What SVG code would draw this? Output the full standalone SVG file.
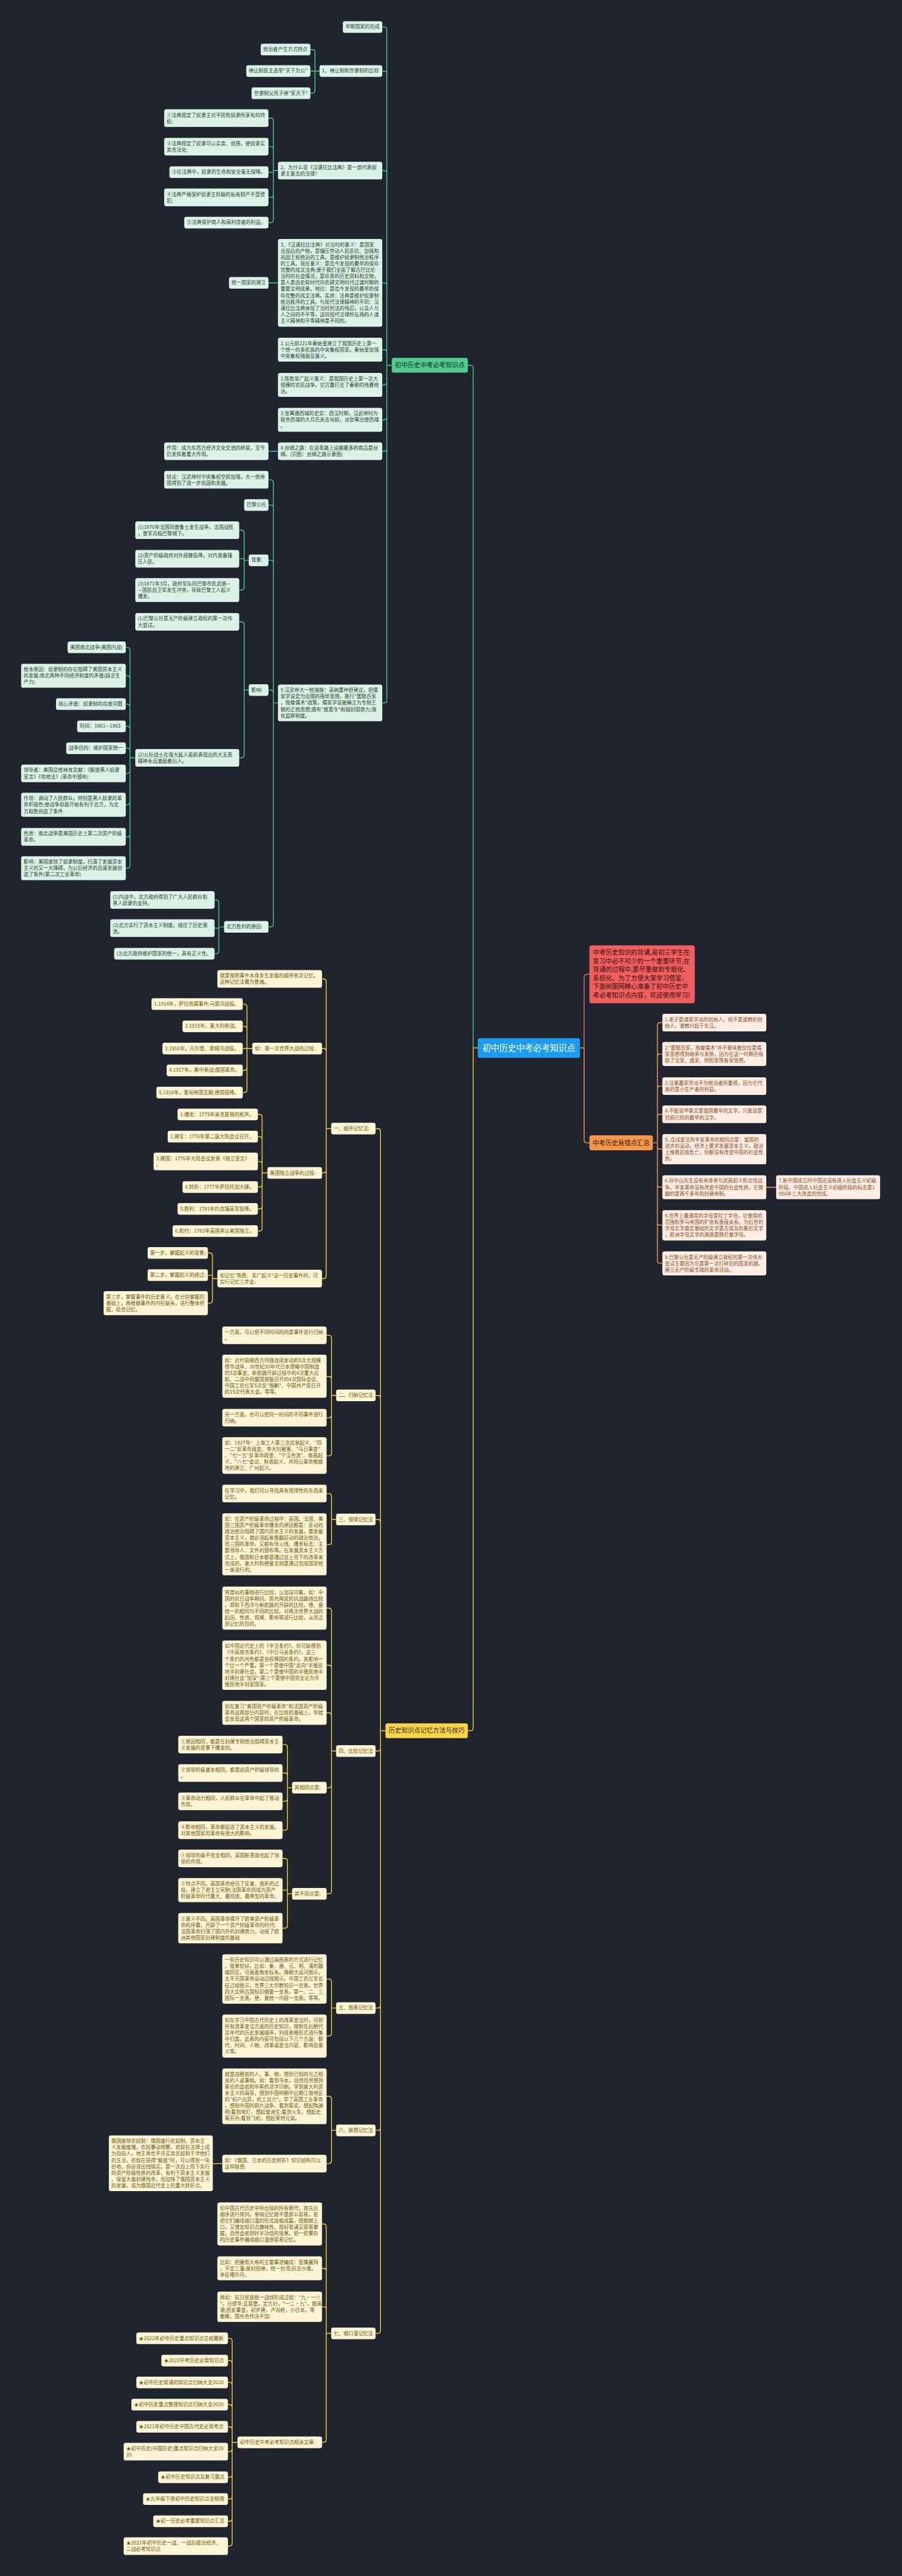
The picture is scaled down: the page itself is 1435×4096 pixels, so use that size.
<svg xmlns="http://www.w3.org/2000/svg" width="1435" height="4096" viewBox="0 0 1435 4096">
<style>
text{font-family:"Noto Sans CJK SC","Noto Sans",sans-serif;font-size:14px}
.n rect{rx:6px;ry:6px}
.g rect{fill:#daf3e6}.g text{fill:#2e3d35}
.y rect{fill:#fdf5d5}.y text{fill:#6b560c}
.o rect{fill:#fdede2}.o text{fill:#8b4a1e}
.big text{font-size:18px}
.gb rect{fill:#4fcb8d}.gb text{fill:#183226}
.yb rect{fill:#f8d44a}.yb text{fill:#3d3000}
.ob rect{fill:#f7964b}.ob text{fill:#3b1d06}
.rb rect{fill:#f05f5f}.rb text{fill:#3a0d0d}
.root rect{fill:#1b9cf0}.root text{fill:#ffffff;font-size:24px}
#connectors path{fill:none;stroke-width:2.5}
.cg{stroke:#4cc28c}.cy{stroke:#efcb3a}.co{stroke:#f29a55}.cr{stroke:#e86a6a}
</style>
<rect width="1435" height="4096" fill="#20242f"/>
<g transform="scale(0.5605)">
<g id="connectors">
<path class="cg" d="M1356 2973H1343V1044Q1343 1036 1335 1036H1328"/>
<path class="cy" d="M1356 2973H1343V4902Q1343 4910 1335 4910H1328"/>
<path class="cr" d="M1646 2973H1658V2772Q1658 2764 1666 2764H1673"/>
<path class="co" d="M1646 2973H1658V3234Q1658 3242 1666 3242H1673"/>
<path class="cg" d="M1112 1036H1098V84.5Q1098 76.5 1090 76.5H1085M1098 209.5Q1098 201.5 1090 201.5H1085M1098 492Q1098 484 1090 484H1085M1098 810.5Q1098 802.5 1090 802.5H1085M1098 1000Q1098 992 1090 992H1085M1112 1036H1098V1984M1098 1084Q1098 1092 1090 1092H1085M1098 1183Q1098 1191 1090 1191H1085M1098 1272Q1098 1280 1090 1280H1085M1098 1986Q1098 1994 1090 1994H1085"/>
<path class="cg" d="M907 201.5H894V148.5Q894 140.5 886 140.5H881M907 201.5H881M894 201.5V256.5Q894 264.5 886 264.5H881"/>
<path class="cg" d="M789 484H776V343Q776 335 768 335H762M776 424Q776 416 768 416H762M776 484V488.5H762M776 484V552Q776 560 768 560H762M776 552V623.5Q776 631.5 768 631.5H762"/>
<path class="cg" d="M789 802.5H762M789 1280H762"/>
<path class="cg" d="M789 1994H776V1369Q776 1361 768 1361H762M776 1440.5Q776 1432.5 768 1432.5H762M776 1597.5Q776 1589.5 768 1589.5H762M776 1965.5Q776 1957.5 768 1957.5H762M776 1994V2621.5Q776 2629.5 768 2629.5H762"/>
<path class="cg" d="M706 1589.5H693V1512Q693 1504 685 1504H679M693 1589.5V1585H679M693 1589.5V1666Q693 1674 685 1674H679"/>
<path class="cg" d="M706 1957.5H693V1772Q693 1764 685 1764H679M693 1957.5V2142Q693 2150 685 2150H679"/>
<path class="cg" d="M384 2150H369V1844.5Q369 1836.5 361 1836.5H357M369 1925Q369 1917 361 1917H357M369 2005.5Q369 1997.5 361 1997.5H357M369 2068.5Q369 2060.5 361 2060.5H357M369 2130.5Q369 2122.5 361 2122.5H357M369 2150V2455Q369 2463 361 2463H357M369 2186Q369 2194 361 2194H357M369 2275Q369 2283 361 2283H357M369 2366Q369 2374 361 2374H357"/>
<path class="cg" d="M636 2629.5H621V2561Q621 2553 613 2553H609M621 2629.5V2633H609M621 2629.5V2697.5Q621 2705.5 613 2705.5H609"/>
<path class="cy" d="M1094 4910H1080V3209.5Q1080 3201.5 1072 3201.5H1066M1080 3966.5Q1080 3958.5 1072 3958.5H1066M1080 4318.5Q1080 4310.5 1072 4310.5H1066M1080 4910V6611.5Q1080 6619.5 1072 6619.5H1066M1080 4959.5Q1080 4967.5 1072 4967.5H1066M1080 5688.5Q1080 5696.5 1072 5696.5H1066M1080 6035.5Q1080 6043.5 1072 6043.5H1066"/>
<path class="cy" d="M940 3201.5H926V2785Q926 2777 918 2777H914M926 2982.5Q926 2974.5 918 2974.5H914M926 3201.5V3619Q926 3627 918 3627H914M926 3319.5Q926 3327.5 918 3327.5H914"/>
<path class="cy" d="M716 2974.5H701V2856.5Q701 2848.5 693 2848.5H689M701 2919.5Q701 2911.5 693 2911.5H689M716 2974.5H689M701 2974.5V3091.5Q701 3099.5 693 3099.5H689M701 3028.5Q701 3036.5 693 3036.5H689"/>
<path class="cy" d="M759 3327.5H744V3169.5Q744 3161.5 736 3161.5H732M744 3232.5Q744 3224.5 736 3224.5H732M744 3303Q744 3295 736 3295H732M744 3327.5V3484.5Q744 3492.5 736 3492.5H732M744 3359.5Q744 3367.5 736 3367.5H732M744 3421.5Q744 3429.5 736 3429.5H732"/>
<path class="cy" d="M617 3627H603V3562.5Q603 3554.5 595 3554.5H590M603 3627V3617.5H590M603 3627V3689Q603 3697 595 3697H590"/>
<path class="cy" d="M954 3958.5H941V3796Q941 3788 933 3788H927M941 3913Q941 3905 933 3905H927M941 3958.5V4122Q941 4130 933 4130H927M941 4014Q941 4022 933 4022H927"/>
<path class="cy" d="M954 4310.5H941V4245Q941 4237 933 4237H927M941 4310.5V4374Q941 4382 933 4382H927"/>
<path class="cy" d="M954 4967.5H941V4570Q941 4562 933 4562H927M941 4732Q941 4724 933 4724H927M941 4867Q941 4859 933 4859H927M941 4967.5V5364.5Q941 5372.5 933 5372.5H927M941 5063.5Q941 5071.5 933 5071.5H927"/>
<path class="cy" d="M829 5071.5H816V4957Q816 4949 808 4949H802M816 5038Q816 5030 808 5030H802M816 5071.5V5184Q816 5192 808 5192H802M816 5102Q816 5110 808 5110H802"/>
<path class="cy" d="M829 5372.5H816V5280Q816 5272 808 5272H802M816 5372.5V5362H802M816 5372.5V5462Q816 5470 808 5470H802"/>
<path class="cy" d="M954 5696.5H941V5622Q941 5614 933 5614H927M941 5696.5V5768Q941 5776 933 5776H927"/>
<path class="cy" d="M954 6043.5H941V5955Q941 5947 933 5947H927M941 6043.5V6130Q941 6138 933 6138H927M631 6138H604"/>
<path class="cy" d="M940 6619.5H926V6317Q926 6309 918 6309H914M926 6443Q926 6435 918 6435H914M926 6552Q926 6544 918 6544H914M926 6619.5V6920.5Q926 6928.5 918 6928.5H914"/>
<path class="cy" d="M674 6928.5H659V6641.5Q659 6633.5 651 6633.5H647M659 6704.5Q659 6696.5 651 6696.5H647M659 6766.5Q659 6758.5 651 6758.5H647M659 6829.5Q659 6821.5 651 6821.5H647M659 6892.5Q659 6884.5 651 6884.5H647M659 6928.5V7215Q659 7223 651 7223H647M659 6947Q659 6955 651 6955H647M659 7019.5Q659 7027.5 651 7027.5H647M659 7081.5Q659 7089.5 651 7089.5H647M659 7144.5Q659 7152.5 651 7152.5H647"/>
<path class="co" d="M1853 3242H1866V2909Q1866 2901 1874 2901H1880M1866 2998Q1866 2990 1874 2990H1880M1866 3089Q1866 3081 1874 3081H1880M1866 3169Q1866 3161 1874 3161H1880M1866 3242V3576Q1866 3584 1874 3584H1880M1866 3252Q1866 3260 1874 3260H1880M1866 3360Q1866 3368 1874 3368H1880M1866 3468Q1866 3476 1874 3476H1880M2175 3368H2203"/>
</g>

<g id="root" class="n root"><rect x="1356" y="2945" width="290" height="56"/><text x="1501" y="2982" text-anchor="middle">初中历史中考必考知识点</text></g>
<g id="intro" class="n rb big"><rect x="1673" y="2682" width="299" height="164"/><text x="1683" y="2709">中考历史知识的背诵,是初三学生在<tspan x="1683" dy="24">复习中必不可少的一个重要环节,在</tspan><tspan x="1683" dy="24">背诵的过程中,要尽量做到专题化、</tspan><tspan x="1683" dy="24">系统化。为了方便大家学习借鉴，</tspan><tspan x="1683" dy="24">下面树图网精心准备了初中历史中</tspan><tspan x="1683" dy="24">考必考知识点内容，欢迎使用学习!</tspan></text></g>

<g id="ob" class="n ob big"><rect x="1673" y="3221" width="180" height="42"/><text x="1682" y="3248">中考历史易错点汇总</text></g>
<g id="o1" class="n o"><rect x="1880" y="2876" width="295" height="50"/><text x="1887" y="2897">1.老子是道家学派的创始人，但不是道教的创<tspan x="1887" dy="18">始人，道教兴起于东汉。</tspan></text></g>
<g id="o2" class="n o"><rect x="1880" y="2956" width="295" height="68"/><text x="1887" y="2977">2."罢黜百家，独尊儒术"并不意味着仅仅是儒<tspan x="1887" dy="18">家思想得到继承与发扬，因为在这一时期还吸</tspan><tspan x="1887" dy="18">取了法家、道家、阴阳家等各家思想。</tspan></text></g>
<g id="o3" class="n o"><rect x="1880" y="3056" width="295" height="50"/><text x="1887" y="3077">3.注意墨家学派不为统治者所重视，因为它代<tspan x="1887" dy="18">表的是小生产者的利益。</tspan></text></g>
<g id="o4" class="n o"><rect x="1880" y="3136" width="295" height="50"/><text x="1887" y="3157">4.不能说甲骨文是我国最早的文字，只能说是<tspan x="1887" dy="18">目前已知的最早的汉字。</tspan></text></g>
<g id="o5" class="n o"><rect x="1880" y="3217" width="295" height="86"/><text x="1887" y="3238">5..戊戌变法和辛亥革命的相同点是：爱国的<tspan x="1887" dy="18">进步的运动，经济上要求发展资本主义，政治</tspan><tspan x="1887" dy="18">上挽救民族危亡，但都没有改变中国的社会性</tspan><tspan x="1887" dy="18">质。</tspan></text></g>
<g id="o6" class="n o"><rect x="1880" y="3334" width="295" height="68"/><text x="1887" y="3355">6.孙中山先生没有亲身参与武昌起义和北伐战<tspan x="1887" dy="18">争。辛亥革命没有改变中国的社会性质，它推</tspan><tspan x="1887" dy="18">翻的是两千多年的封建帝制。</tspan></text></g>
<g id="o7" class="n o"><rect x="2203" y="3334" width="295" height="68"/><text x="2210" y="3355">7.新中国成立时中国还没有进入社会主义初级<tspan x="2210" dy="18">阶段，中国进入社会主义初级阶段的标志是1</tspan><tspan x="2210" dy="18">956年三大改造的完成。</tspan></text></g>
<g id="o8" class="n o"><rect x="1880" y="3433" width="295" height="86"/><text x="1887" y="3454">8.世界上最通用的字母是拉丁字母，它使用的<tspan x="1887" dy="18">范围和罗马帝国的扩张有直接关系。为后世的</tspan><tspan x="1887" dy="18">字母文字奠定基础的文字是古埃及的象形文字</tspan><tspan x="1887" dy="18">，欧洲字母文字的渊源是腓尼基字母。</tspan></text></g>
<g id="o9" class="n o"><rect x="1880" y="3550" width="295" height="68"/><text x="1887" y="3571">9.巴黎公社是无产阶级建立政权的第一次伟大<tspan x="1887" dy="18">尝试主要因为它是第一次打碎旧的国家机器，</tspan><tspan x="1887" dy="18">建立无产阶级专政的革命活动。</tspan></text></g>

<g id="g0" class="n gb big"><rect x="1112" y="1015" width="216" height="42"/><text x="1121" y="1042">初中历史中考必考知识点</text></g>
<g id="g1" class="n g"><rect x="973" y="60" width="112" height="33"/><text x="980" y="81">早期国家的形成</text></g>
<g id="g2" class="n g"><rect x="907" y="185" width="178" height="33"/><text x="914" y="206">1、禅让制和世袭制的比较</text></g>
<g id="g2a" class="n g"><rect x="740" y="124" width="141" height="33"/><text x="747" y="145">统治者产生方式特点</text></g>
<g id="g2b" class="n g"><rect x="699" y="185" width="182" height="33"/><text x="706" y="206">禅让制民主选举"天下为公"</text></g>
<g id="g2c" class="n g"><rect x="714" y="248" width="167" height="33"/><text x="721" y="269">世袭制父死子继"家天下"</text></g>
<g id="g3" class="n g"><rect x="789" y="459" width="296" height="50"/><text x="796" y="480">2、为什么说《汉谟拉比法典》是一部代表奴<tspan x="796" dy="18">隶主意志的法律?</tspan></text></g>
<g id="g3a" class="n g"><rect x="466" y="310" width="296" height="50"/><text x="473" y="331">①法典规定了奴隶主对平民和奴隶所享有的特<tspan x="473" dy="18">权;</tspan></text></g>
<g id="g3b" class="n g"><rect x="466" y="391" width="296" height="50"/><text x="473" y="412">②法典规定了奴隶可以买卖、抵债，使奴隶买<tspan x="473" dy="18">卖合法化;</tspan></text></g>
<g id="g3c" class="n g"><rect x="481" y="472" width="281" height="33"/><text x="488" y="493">③在法典中，奴隶的生命和安全毫无保障。</text></g>
<g id="g3d" class="n g"><rect x="466" y="535" width="296" height="50"/><text x="473" y="556">④法典严格保护奴隶主阶级的私有财产不受侵<tspan x="473" dy="18">犯;</tspan></text></g>
<g id="g3e" class="n g"><rect x="523" y="615" width="239" height="33"/><text x="530" y="636">⑤法典保护商人和高利贷者的利益。</text></g>
<g id="g4" class="n g"><rect x="789" y="678" width="296" height="249"/><text x="796" y="699">3、《汉谟拉比法典》对当时的意义：是国家<tspan x="796" dy="18">出现后的产物，是镇压劳动人民反抗、加强和</tspan><tspan x="796" dy="18">巩固王权统治的工具，是维护奴隶制统治秩序</tspan><tspan x="796" dy="18">的工具。现在意义：是迄今发现的最早的保存</tspan><tspan x="796" dy="18">完整的成文法典;便于我们全面了解古巴比伦</tspan><tspan x="796" dy="18">当时的社会情况，是珍贵的历史资料和文物，</tspan><tspan x="796" dy="18">是人类由史前时代向农耕文明时代过渡时期的</tspan><tspan x="796" dy="18">重要文明成果。地位：是迄今发现的最早的保</tspan><tspan x="796" dy="18">存完整的成文法典。实质：法典是维护奴隶制</tspan><tspan x="796" dy="18">统治秩序的工具。与现代法律精神的不同：汉</tspan><tspan x="796" dy="18">谟拉比法典体现了当时刑法的残忍，以及人与</tspan><tspan x="796" dy="18">人之间的不平等，这同现代法律所弘扬的人道</tspan><tspan x="796" dy="18">主义精神和平等精神是不同的。</tspan></text></g>
<g id="g4a" class="n g"><rect x="650" y="786" width="112" height="33"/><text x="657" y="807">统一国家的建立</text></g>
<g id="g5" class="n g"><rect x="789" y="958" width="296" height="68"/><text x="796" y="979">1.公元前221年秦始皇建立了我国历史上第一<tspan x="796" dy="18">个统一的多民族的中央集权国家。秦始皇加强</tspan><tspan x="796" dy="18">中央集权措施及意义。</tspan></text></g>
<g id="g6" class="n g"><rect x="789" y="1058" width="296" height="68"/><text x="796" y="1079">2.陈胜吴广起义意义：是我国历史上第一次大<tspan x="796" dy="18">规模的农民战争，它沉重打击了秦朝的残暴统</tspan><tspan x="796" dy="18">治。</tspan></text></g>
<g id="g7" class="n g"><rect x="789" y="1157" width="296" height="68"/><text x="796" y="1178">3.张骞通西域的史实：西汉时期，汉武帝时为<tspan x="796" dy="18">联合西域的大月氏夹击匈奴，派张骞出使西域</tspan><tspan x="796" dy="18">。</tspan></text></g>
<g id="g8" class="n g"><rect x="789" y="1255" width="296" height="50"/><text x="796" y="1276">4.丝绸之路：在这条路上运输最多的商品是丝<tspan x="796" dy="18">绸。(识图：丝绸之路示意图)</tspan></text></g>
<g id="g8a" class="n g"><rect x="466" y="1255" width="296" height="50"/><text x="473" y="1276">作用：成为东西方经济文化交流的桥梁，至今<tspan x="473" dy="18">仍发挥着重大作用。</tspan></text></g>
<g id="g9" class="n g"><rect x="789" y="1942" width="296" height="104"/><text x="796" y="1963">5.汉武帝大一统措施：采纳董仲舒建议，把儒<tspan x="796" dy="18">家学说定为治国的指导思想，推行"罢黜百家</tspan><tspan x="796" dy="18">，独尊儒术"政策，儒家学说被确立为专制王</tspan><tspan x="796" dy="18">朝的正统思想;颁布"推恩令"削弱封国势力;强</tspan><tspan x="796" dy="18">化监察制度。</tspan></text></g>
<g id="g9a" class="n g"><rect x="466" y="1336" width="296" height="50"/><text x="473" y="1357">结论：汉武帝时中央集权空前加强，大一统帝<tspan x="473" dy="18">国得到了进一步巩固和发展。</tspan></text></g>
<g id="g9b" class="n g"><rect x="693" y="1416" width="69" height="33"/><text x="700" y="1437">巴黎公社</text></g>
<g id="g9c" class="n g"><rect x="706" y="1573" width="56" height="33"/><text x="713" y="1594">背景:</text></g>
<g id="g9c1" class="n g"><rect x="384" y="1479" width="295" height="50"/><text x="391" y="1500">(1)1870年法国同普鲁士发生战争，法国战败<tspan x="391" dy="18">，普军兵临巴黎城下。</tspan></text></g>
<g id="g9c2" class="n g"><rect x="384" y="1560" width="295" height="50"/><text x="391" y="1581">(2)资产阶级政府对外屈膝投降，对内准备镇<tspan x="391" dy="18">压人民。</tspan></text></g>
<g id="g9c3" class="n g"><rect x="384" y="1640" width="295" height="68"/><text x="391" y="1661">(3)1871年3月，政府军队同巴黎市民武装—<tspan x="391" dy="18">—国民自卫军发生冲突，导致巴黎工人起义</tspan><tspan x="391" dy="18">爆发。</tspan></text></g>
<g id="g9d" class="n g"><rect x="706" y="1941" width="56" height="33"/><text x="713" y="1962">影响:</text></g>
<g id="g9d1" class="n g"><rect x="384" y="1739" width="295" height="50"/><text x="391" y="1760">(1)巴黎公社是无产阶级建立政权的第一次伟<tspan x="391" dy="18">大尝试。</tspan></text></g>
<g id="g9d2" class="n g"><rect x="384" y="2125" width="295" height="50"/><text x="391" y="2146">(2)公社战士在强大敌人面前表现出的大无畏<tspan x="391" dy="18">精神永远激励着后人。</tspan></text></g>
<g id="na" class="n g"><rect x="192" y="1820" width="165" height="33"/><text x="199" y="1841">美国南北战争(美国内战)</text></g>
<g id="nb" class="n g"><rect x="60" y="1883" width="297" height="68"/><text x="67" y="1904">根本原因：奴隶制的存在阻碍了美国资本主义<tspan x="67" dy="18">的发展;南北两种不同经济制度的矛盾(缺乏生</tspan><tspan x="67" dy="18">产力)</tspan></text></g>
<g id="nc" class="n g"><rect x="159" y="1981" width="198" height="33"/><text x="166" y="2002">核心矛盾：奴隶制的存废问题</text></g>
<g id="nd" class="n g"><rect x="219" y="2044" width="138" height="33"/><text x="226" y="2065">时间：1861—1865</text></g>
<g id="ne" class="n g"><rect x="188" y="2106" width="169" height="33"/><text x="195" y="2127">战争目的：维护国家统一</text></g>
<g id="nf" class="n g"><rect x="60" y="2169" width="297" height="50"/><text x="67" y="2190">领导者：美国总统林肯文献：《解放黑人奴隶<tspan x="67" dy="18">宣言》《宅地法》(革命中颁布)</tspan></text></g>
<g id="ng" class="n g"><rect x="60" y="2249" width="297" height="68"/><text x="67" y="2270">作用：调动了人民群众，特别是黑人奴隶的革<tspan x="67" dy="18">命积极性;使战争局面开始有利于北方，为北</tspan><tspan x="67" dy="18">方取胜创造了条件</tspan></text></g>
<g id="nh" class="n g"><rect x="60" y="2349" width="297" height="50"/><text x="67" y="2370">性质：南北战争是美国历史上第二次资产阶级<tspan x="67" dy="18">革命。</tspan></text></g>
<g id="ni" class="n g"><rect x="60" y="2429" width="297" height="68"/><text x="67" y="2450">影响：美国废除了奴隶制度，扫清了发展资本<tspan x="67" dy="18">主义的又一大障碍，为以后经济的迅速发展创</tspan><tspan x="67" dy="18">造了条件(第二次工业革命)</tspan></text></g>
<g id="g9e" class="n g"><rect x="636" y="2613" width="126" height="33"/><text x="643" y="2634">北方胜利的原因:</text></g>
<g id="nr1" class="n g"><rect x="313" y="2528" width="296" height="50"/><text x="320" y="2549">(1)内战中，北方政府得到了广大人民群众和<tspan x="320" dy="18">黑人奴隶的支持。</tspan></text></g>
<g id="nr2" class="n g"><rect x="313" y="2608" width="296" height="50"/><text x="320" y="2629">(2)北方实行了资本主义制度，顺应了历史潮<tspan x="320" dy="18">流。</tspan></text></g>
<g id="nr3" class="n g"><rect x="324" y="2689" width="285" height="33"/><text x="331" y="2710">(3)北方政府维护国家的统一，具有正义性。</text></g>

<g id="y0" class="n yb big"><rect x="1094" y="4889" width="234" height="42"/><text x="1103" y="4916">历史知识点记忆方法与技巧</text></g>
<g id="y1" class="n y"><rect x="940" y="3185" width="126" height="33"/><text x="947" y="3206">一、顺序记忆法:</text></g>
<g id="y1a" class="n y"><rect x="617" y="2752" width="297" height="50"/><text x="624" y="2773">就是按照事件本身发生发展的顺序依次记忆。<tspan x="624" dy="18">这种记忆法最为普遍。</tspan></text></g>
<g id="y1b" class="n y"><rect x="716" y="2958" width="198" height="33"/><text x="723" y="2979">如：第一次世界大战的过程:</text></g>
<g id="w1" class="n y"><rect x="430" y="2832" width="259" height="33"/><text x="437" y="2853">1.1914年，萨拉热窝事件;马恩河战役。</text></g>
<g id="w2" class="n y"><rect x="518" y="2895" width="171" height="33"/><text x="525" y="2916">2.1915年，意大利参战。</text></g>
<g id="w3" class="n y"><rect x="461" y="2958" width="228" height="33"/><text x="468" y="2979">3.1916年，凡尔登、索姆河战役。</text></g>
<g id="w4" class="n y"><rect x="473" y="3020" width="216" height="33"/><text x="480" y="3041">4.1917年，美中参战;俄国革命。</text></g>
<g id="w5" class="n y"><rect x="444" y="3083" width="245" height="33"/><text x="451" y="3104">5.1918年，奥匈帝国瓦解;德国投降。</text></g>
<g id="y1c" class="n y"><rect x="759" y="3311" width="155" height="33"/><text x="766" y="3332">美国独立战争的过程:</text></g>
<g id="u1" class="n y"><rect x="504" y="3145" width="228" height="33"/><text x="511" y="3166">1.爆发：1775年来克星顿的枪声。</text></g>
<g id="u2" class="n y"><rect x="476" y="3208" width="256" height="33"/><text x="483" y="3229">2.建军：1776年第二届大陆会议召开。</text></g>
<g id="u3" class="n y"><rect x="436" y="3270" width="296" height="50"/><text x="443" y="3291">3.建国：1776年大陆会议发表《独立宣言》<tspan x="443" dy="18">。</tspan></text></g>
<g id="u4" class="n y"><rect x="518" y="3351" width="214" height="33"/><text x="525" y="3372">4.转折：1777年萨拉托加大捷。</text></g>
<g id="u5" class="n y"><rect x="504" y="3413" width="228" height="33"/><text x="511" y="3434">5.胜利：1781年约克镇英军投降。</text></g>
<g id="u6" class="n y"><rect x="490" y="3476" width="242" height="33"/><text x="497" y="3497">6.和约：1783年英国承认美国独立。</text></g>
<g id="y1d" class="n y"><rect x="617" y="3602" width="297" height="50"/><text x="624" y="3623">如记忆"陈胜、吴广起义"这一历史事件时，可<tspan x="624" dy="18">实行记忆三步走:</tspan></text></g>
<g id="s1" class="n y"><rect x="419" y="3538" width="171" height="33"/><text x="426" y="3559">第一步，掌握起义的背景;</text></g>
<g id="s2" class="n y"><rect x="419" y="3601" width="171" height="33"/><text x="426" y="3622">第二步，掌握起义的经过;</text></g>
<g id="s3" class="n y"><rect x="294" y="3663" width="296" height="68"/><text x="301" y="3684">第三步，掌握事件的历史意义。在分别掌握的<tspan x="301" dy="18">基础上，再根据事件的内在联系，进行整体把</tspan><tspan x="301" dy="18">握，综合记忆。</tspan></text></g>
<g id="y2" class="n y"><rect x="954" y="3942" width="112" height="33"/><text x="961" y="3963">二、归纳记忆法</text></g>
<g id="y2a" class="n y"><rect x="631" y="3763" width="296" height="50"/><text x="638" y="3784">一方面，可以把不同时间的同类事件进行归纳<tspan x="638" dy="18">。</tspan></text></g>
<g id="y2b" class="n y"><rect x="631" y="3843" width="296" height="122"/><text x="638" y="3864">如：近代前期西方列强连续发动的5次大规模<tspan x="638" dy="18">侵华战争、20世纪30年代日本侵略中国制造</tspan><tspan x="638" dy="18">的5次事变、新航路开辟过程中的4次重大远</tspan><tspan x="638" dy="18">航、二战中同盟国首脑召开的4次国际会议、</tspan><tspan x="638" dy="18">中国工农红军5次反"围剿"、中国共产党召开</tspan><tspan x="638" dy="18">的15次代表大会，等等。</tspan></text></g>
<g id="y2c" class="n y"><rect x="631" y="3997" width="296" height="50"/><text x="638" y="4018">另一方面，也可以把同一时间的不同事件进行<tspan x="638" dy="18">归纳。</tspan></text></g>
<g id="y2d" class="n y"><rect x="631" y="4077" width="296" height="104"/><text x="638" y="4098">如：1927年：上海工人第三次武装起义、"四<tspan x="638" dy="18">一二"反革命政变、李大钊被害、"马日事变"</tspan><tspan x="638" dy="18">、"七一五"反革命政变、"宁汉合流"、南昌起</tspan><tspan x="638" dy="18">义、"八七"会议、秋收起义、井冈山革命根据</tspan><tspan x="638" dy="18">地的建立、广州起义。</tspan></text></g>
<g id="y3" class="n y"><rect x="954" y="4294" width="112" height="33"/><text x="961" y="4315">三、规律记忆法</text></g>
<g id="y3a" class="n y"><rect x="631" y="4212" width="296" height="50"/><text x="638" y="4233">在学习中，我们可以寻找具有规律性的东西来<tspan x="638" dy="18">记忆。</tspan></text></g>
<g id="y3b" class="n y"><rect x="631" y="4293" width="296" height="176"/><text x="638" y="4314">如：在资产阶级革命过程中：英国、法国、美<tspan x="638" dy="18">国三国资产阶级革命爆发的原因都是：反动的</tspan><tspan x="638" dy="18">政治统治阻碍了国内资本主义的发展，要发展</tspan><tspan x="638" dy="18">资本主义，就必须起来推翻反动的政治统治。</tspan><tspan x="638" dy="18">而三国的革命，又都有导火线、爆发标志、主</tspan><tspan x="638" dy="18">要领导人、文件的颁布等。在发展资本主义方</tspan><tspan x="638" dy="18">式上，俄国和日本都是通过自上而下的改革来</tspan><tspan x="638" dy="18">完成的，意大利和德意志则是通过完成国家统</tspan><tspan x="638" dy="18">一来进行的。</tspan></text></g>
<g id="y4" class="n y"><rect x="954" y="4951" width="112" height="33"/><text x="961" y="4972">四、比较记忆法</text></g>
<g id="y4a" class="n y"><rect x="631" y="4501" width="296" height="122"/><text x="638" y="4522">将类似的事物进行比较，以加深印象。如：中<tspan x="638" dy="18">国的抗日战争期间，国共两党的抗战路线比较</tspan><tspan x="638" dy="18">。郑和下西洋与新航路的开辟的比较。德、意</tspan><tspan x="638" dy="18">统一的相同与不同的比较。对两次世界大战的</tspan><tspan x="638" dy="18">起因、性质、规模、影响等进行比较，从而达</tspan><tspan x="638" dy="18">到记忆的目的。</tspan></text></g>
<g id="y4b" class="n y"><rect x="631" y="4654" width="296" height="140"/><text x="638" y="4675">如中国近代史上的《辛丑条约》，你可联想到<tspan x="638" dy="18">《中英南京条约》、《中日马关条约》，这三</tspan><tspan x="638" dy="18">个条约的共性都是丧权辱国的条约，其影响一</tspan><tspan x="638" dy="18">个比一个严重。第一个是使中国"走向"半殖民</tspan><tspan x="638" dy="18">地半封建社会，第二个是使中国的半殖民地半</tspan><tspan x="638" dy="18">封建社会"加深";第三个是使中国完全沦为半</tspan><tspan x="638" dy="18">殖民地半封家国家。</tspan></text></g>
<g id="y4c" class="n y"><rect x="631" y="4825" width="296" height="68"/><text x="638" y="4846">如在复习"美国资产阶级革命"和法国资产阶级<tspan x="638" dy="18">革命这两部分内容时，在比较的基础上，你就</tspan><tspan x="638" dy="18">会发现这两个国家的资产阶级革命。</tspan></text></g>
<g id="same" class="n y"><rect x="829" y="5055" width="98" height="33"/><text x="836" y="5076">其相同点是:</text></g>
<g id="sa1" class="n y"><rect x="506" y="4924" width="296" height="50"/><text x="513" y="4945">①原因相同，都是在封建专制统治阻碍资本主<tspan x="513" dy="18">义发展的背景下爆发的。</tspan></text></g>
<g id="sa2" class="n y"><rect x="506" y="5005" width="296" height="50"/><text x="513" y="5026">②领导阶级基本相同，都是由资产阶级领导的<tspan x="513" dy="18">。</tspan></text></g>
<g id="sa3" class="n y"><rect x="506" y="5085" width="296" height="50"/><text x="513" y="5106">③革命动力相同，人民群众在革命中起了推动<tspan x="513" dy="18">作用。</tspan></text></g>
<g id="sa4" class="n y"><rect x="506" y="5167" width="296" height="50"/><text x="513" y="5188">④影响相同，革命都促进了资本主义的发展，<tspan x="513" dy="18">对其他国家的革命有很大的影响。</tspan></text></g>
<g id="diff" class="n y"><rect x="829" y="5356" width="98" height="33"/><text x="836" y="5377">其不同点是:</text></g>
<g id="d1" class="n y"><rect x="506" y="5247" width="296" height="50"/><text x="513" y="5268">①领导阶级不完全相同，英国新贵族也起了领<tspan x="513" dy="18">导的作用。</tspan></text></g>
<g id="d2" class="n y"><rect x="506" y="5328" width="296" height="68"/><text x="513" y="5349">②特点不同。英国革命经历了反复、曲折的过<tspan x="513" dy="18">程，建立了君主立宪制;法国革命则成为资产</tspan><tspan x="513" dy="18">阶级革命时代最大、最彻底、最典型的革命。</tspan></text></g>
<g id="d3" class="n y"><rect x="506" y="5427" width="296" height="86"/><text x="513" y="5448">③意义不同。英国革命揭开了欧美资产阶级革<tspan x="513" dy="18">命的序幕，开辟了一个资产阶级革命的时代;</tspan><tspan x="513" dy="18">法国革命扫荡了国内外的封建势力，动摇了欧</tspan><tspan x="513" dy="18">洲其他国家封建制度的基础</tspan></text></g>
<g id="y5" class="n y"><rect x="954" y="5680" width="112" height="33"/><text x="961" y="5701">五、图表记忆法</text></g>
<g id="y5a" class="n y"><rect x="631" y="5544" width="296" height="140"/><text x="638" y="5565">一些历史知识可以通过画图表的方式进行记忆<tspan x="638" dy="18">，效果较好。比如：秦、唐、元、明、清的疆</tspan><tspan x="638" dy="18">域四至，可画直角坐标系。隋朝大运河图示。</tspan><tspan x="638" dy="18">太平天国革命运动过程图示。中国工农红军长</tspan><tspan x="638" dy="18">征过程图示。世界三大宗教知识一览表。世界</tspan><tspan x="638" dy="18">四大文明古国知识摘要一览表。第一、二、三</tspan><tspan x="638" dy="18">国际一览表。德、意统一内容一览表。等等。</tspan></text></g>
<g id="y5b" class="n y"><rect x="631" y="5715" width="296" height="122"/><text x="638" y="5736">如在学习中国古代历史上的改革变法时，可把<tspan x="638" dy="18">所有改革变法方面的历史知识，按照先后朝代</tspan><tspan x="638" dy="18">及年代的历史发展顺序，列成表格形式进行集</tspan><tspan x="638" dy="18">中归类。此表的内容可包括以下几个方面：朝</tspan><tspan x="638" dy="18">代、时间、人物、改革或变法内容、影响及意</tspan><tspan x="638" dy="18">义等。</tspan></text></g>
<g id="y6" class="n y"><rect x="954" y="6027" width="112" height="33"/><text x="961" y="6048">六、联想记忆法</text></g>
<g id="y6a" class="n y"><rect x="631" y="5868" width="296" height="158"/><text x="638" y="5889">就是由眼前的人、事、物，想到已知的与之相<tspan x="638" dy="18">关的人或事物。如：看到书本，自然而然想到</tspan><tspan x="638" dy="18">蔡伦的造纸和毕昇的活字印刷。学到意大利资</tspan><tspan x="638" dy="18">本主义的萌芽，想到中国明朝中后期江南地区</tspan><tspan x="638" dy="18">的"机户出资，机工出力"。学了英国工业革命</tspan><tspan x="638" dy="18">，想到中国的鸦片战争。看到菊花，想起陶渊</tspan><tspan x="638" dy="18">明;看到电灯，想起爱迪生;看到火车，想起史</tspan><tspan x="638" dy="18">蒂芬孙;看到飞机，想起莱特兄弟。</tspan></text></g>
<g id="y6b" class="n y"><rect x="631" y="6113" width="296" height="50"/><text x="638" y="6134">如：《俄国、日本的历史转折》知识结构可以<tspan x="638" dy="18">这样联想:</tspan></text></g>
<g id="y6c" class="n y"><rect x="309" y="6058" width="295" height="158"/><text x="316" y="6079">俄国废除农奴制：俄国盛行农奴制，资本主<tspan x="316" dy="18">义发展缓慢，农奴暴动频繁，农奴在法律上成</tspan><tspan x="316" dy="18">为自由人，地主再也不许买卖农奴和干涉他们</tspan><tspan x="316" dy="18">的生活，农奴在获得"解放"时，可以得到一块</tspan><tspan x="316" dy="18">份地，但必须出钱赎买。是一次自上而下实行</tspan><tspan x="316" dy="18">的资产阶级性质的改革，有利于资本主义发展</tspan><tspan x="316" dy="18">。保留大量封建残余，但加快了俄国资本主义</tspan><tspan x="316" dy="18">的发展，成为俄国近代史上的重大转折点。</tspan></text></g>
<g id="y7" class="n y"><rect x="940" y="6603" width="126" height="33"/><text x="947" y="6624">七、顺口溜记忆法</text></g>
<g id="y7a" class="n y"><rect x="617" y="6248" width="297" height="122"/><text x="624" y="6269">如中国古代历史中所出现的所有朝代，按先后<tspan x="624" dy="18">顺序进行排列，单纯记忆就不是那么容易，若</tspan><tspan x="624" dy="18">把它们编成顺口溜的形式连缀成篇，既朗朗上</tspan><tspan x="624" dy="18">口，又增加知识点趣味性。既好背诵又容易掌</tspan><tspan x="624" dy="18">握，自然会收到时半功倍的效果。把一些繁杂</tspan><tspan x="624" dy="18">的历史事件编成顺口溜很容易记忆。</tspan></text></g>
<g id="y7b" class="n y"><rect x="617" y="6401" width="297" height="68"/><text x="624" y="6422">比如：把康熙大帝的主要事迹编成：智擒鳌拜<tspan x="624" dy="18">，平定三藩;册封班禅，统一台湾;抗击沙俄，</tspan><tspan x="624" dy="18">亲征噶尔丹。</tspan></text></g>
<g id="y7c" class="n y"><rect x="617" y="6501" width="297" height="86"/><text x="624" y="6522">再如：抗日民族统一战线形成过程："九·一八<tspan x="624" dy="18">"，日侵华;瓦窑堡，定方针。"一二·九"，掀高</tspan><tspan x="624" dy="18">潮;西安事变，初步建。卢沟桥，小日本，等</tspan><tspan x="624" dy="18">着瞧，国共合作决不饶!</tspan></text></g>
<g id="y7d" class="n y"><rect x="674" y="6912" width="240" height="33"/><text x="681" y="6933">初中历史中考必考知识点相关文章:</text></g>
<g id="a1" class="n y"><rect x="387" y="6617" width="260" height="33"/><text x="394" y="6638">★2022年初中历史重点知识点总结最新</text></g>
<g id="a2" class="n y"><rect x="458" y="6680" width="189" height="33"/><text x="465" y="6701">★2022中考历史必背知识点</text></g>
<g id="a3" class="n y"><rect x="387" y="6742" width="260" height="33"/><text x="394" y="6763">★初中历史背诵的知识点归纳大全2020</text></g>
<g id="a4" class="n y"><rect x="373" y="6805" width="274" height="33"/><text x="380" y="6826">★初中历史重点整理知识点归纳大全2020</text></g>
<g id="a5" class="n y"><rect x="387" y="6868" width="260" height="33"/><text x="394" y="6889">★2021年初中历史中国古代史必背考点</text></g>
<g id="a6" class="n y"><rect x="351" y="6930" width="296" height="50"/><text x="358" y="6951">★初中历史(中国历史)重点知识点归纳大全20<tspan x="358" dy="18">20</tspan></text></g>
<g id="a7" class="n y"><rect x="449" y="7011" width="198" height="33"/><text x="456" y="7032">★初中历史知识点及复习要点</text></g>
<g id="a8" class="n y"><rect x="406" y="7073" width="241" height="33"/><text x="413" y="7094">★九年级下册初中历史知识点全梳理</text></g>
<g id="a9" class="n y"><rect x="435" y="7136" width="212" height="33"/><text x="442" y="7157">★初一历史必考重要知识点汇总</text></g>
<g id="a10" class="n y"><rect x="351" y="7198" width="296" height="50"/><text x="358" y="7219">★2021年初中历史一战、一战后政治经济、<tspan x="358" dy="18">二战必考知识点</tspan></text></g>
</g>
</svg>
